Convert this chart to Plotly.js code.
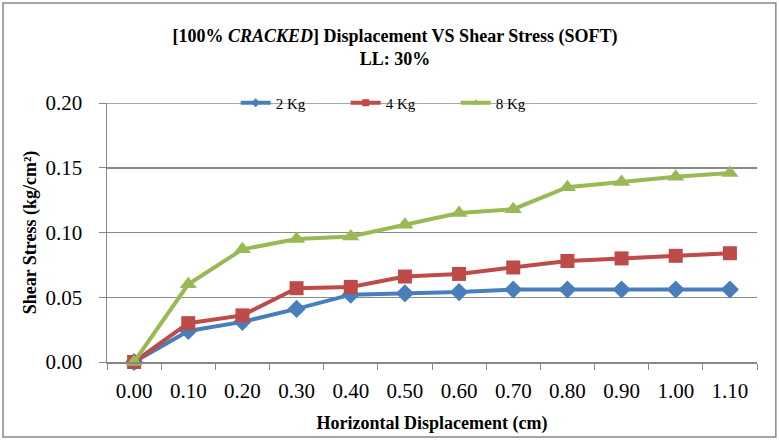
<!DOCTYPE html>
<html>
<head>
<meta charset="utf-8">
<script src="https://cdn.plot.ly/plotly-3.0.1.min.js"></script>
<style>html,body{margin:0;padding:0;background:#fff;}#chart{width:779px;height:440px;}</style>
</head>
<body>
<div id="chart"></div>
<script>
const categories = ["0.00","0.10","0.20","0.30","0.40","0.50","0.60","0.70","0.80","0.90","1.00","1.10"];
const kg2 = [0, 0.024, 0.031, 0.041, 0.052, 0.053, 0.054, 0.056, 0.056, 0.056, 0.056, 0.056];
const kg4 = [0, 0.030, 0.036, 0.057, 0.058, 0.066, 0.068, 0.073, 0.078, 0.080, 0.082, 0.084];
const kg8 = [0, 0.060, 0.087, 0.095, 0.097, 0.106, 0.115, 0.118, 0.135, 0.139, 0.143, 0.146];
const seriesNames = ["2 Kg", "4 Kg", "8 Kg"];
const yTicks = [0, 0.05, 0.10, 0.15, 0.20];

const colors = ["#4A7EBB", "#BE4B48", "#98B954"];
const symbols = ["diamond", "square", "triangle-up"];
const sizes = [14, 14, 15];
const data = [kg2, kg4, kg8].map((v, i) => ({
  x: categories, y: v, name: seriesNames[i], type: "scatter", mode: "lines+markers",
  line: {color: colors[i], width: 4},
  marker: {color: colors[i], symbol: symbols[i], size: sizes[i]},
  cliponaxis: false,
  showlegend: false, legendgroup: "g" + i
}));
// legend-only entries (small markers as in the reference legend)
seriesNames.forEach((n, i) => data.push({
  x: [categories[0]], y: [null], name: n, type: "scatter", mode: "lines+markers",
  line: {color: colors[i], width: 4},
  marker: {color: colors[i], symbol: symbols[i], size: 7},
  showlegend: true, legendgroup: "g" + i, hoverinfo: "skip"
}));

const font = "Liberation Serif";
const layout = {
  width: 779, height: 440,
  margin: {l: 107, r: 22, t: 103, b: 78},
  paper_bgcolor: "#fff", plot_bgcolor: "#fff",
  font: {family: font, color: "#000"},
  title: {
    text: "<b>[100% <i>CRACKED</i>] Displacement VS Shear Stress (SOFT)<br>LL: 30%</b>",
    font: {family: font, size: 18, color: "#000"},
    x: 0.507, xanchor: "center", y: 0.905, yanchor: "top", yref: "container"
  },
  showlegend: true,
  legend: {orientation: "h", x: 0.198, xanchor: "left", y: 1.0, yanchor: "middle",
           font: {family: font, size: 15}, bgcolor: "rgba(0,0,0,0)",
           itemwidth: 30, entrywidth: 65, entrywidthmode: "pixels", tracegroupgap: 0},
  xaxis: {
    type: "category", categoryorder: "array", categoryarray: categories,
    tickson: "boundaries", ticks: "outside", ticklen: 6, tickcolor: "#888",
    showline: true, linecolor: "#888", linewidth: 1.5, showgrid: false,
    tickfont: {family: font, size: 21}, range: [-0.5, 11.5], ticklabelstandoff: 9,
    title: {text: "<b>Horizontal Displacement (cm)</b>", font: {family: font, size: 18}, standoff: 14}
  },
  yaxis: {
    range: [0, 0.20], tickvals: yTicks, tickformat: ".2f",
    ticks: "outside", ticklen: 7, tickcolor: "#888",
    showline: true, linecolor: "#888", linewidth: 1.5,
    showgrid: true, gridcolor: "#8a8a8a", gridwidth: 1.5, zeroline: false,
    tickfont: {family: font, size: 21}, ticklabelstandoff: 12,
    title: {text: "<b>Shear Stress (kg/cm²)</b>", font: {family: font, size: 18}, standoff: 4}
  },
  shapes: [
    {type: "rect", xref: "paper", yref: "paper",
     x0: -0.16, x1: 1.029, y0: -0.29, y1: 1.386,
     line: {color: "#888", width: 1.5}, layer: "below"},
    {type: "line", xref: "paper", yref: "y", x0: 0, x1: 1, y0: yTicks[4], y1: yTicks[4],
     line: {color: "#8a8a8a", width: 1.5}, layer: "below"}
  ]
};
Plotly.newPlot("chart", data, layout, {displayModeBar: false, staticPlot: true});
</script>
</body>
</html>
